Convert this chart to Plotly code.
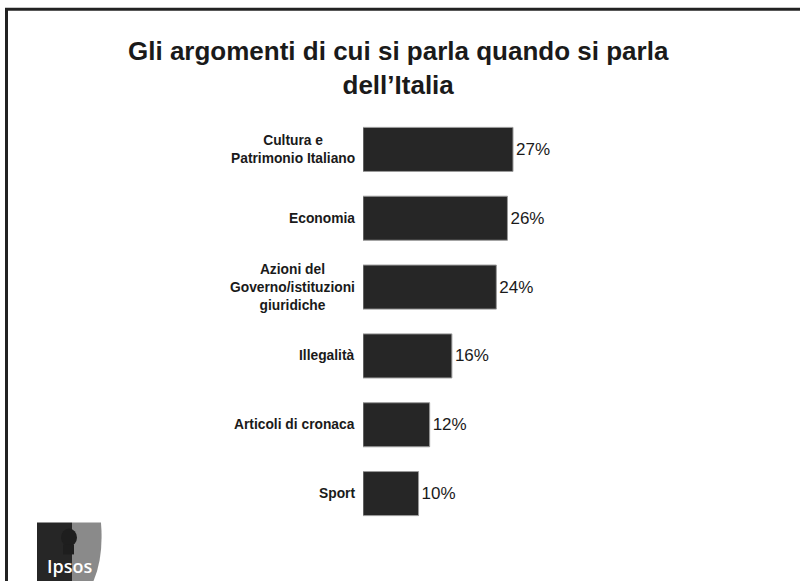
import plotly.graph_objects as go

categories = [
    "Cultura e<br>Patrimonio Italiano",
    "Economia",
    "Azioni del<br>Governo/istituzioni<br>giuridiche",
    "Illegalità",
    "Articoli di cronaca",
    "Sport",
]
values = [27, 26, 24, 16, 12, 10]
title_text = "Gli argomenti di cui si parla quando si parla<br>dell’Italia"

W, H = 800, 581
L, R, T, B = 363, 37, 114.5, 52.5
PW, PH = W - L - R, H - T - B
XMAX = 72


def px(x):
    return (x - L) / PW


def py(y):
    return (H - B - y) / PH


fig = go.Figure()
fig.add_trace(go.Bar(
    x=values,
    y=categories,
    orientation="h",
    marker=dict(color="#262626", line=dict(color="#9a9a9a", width=1)),
    text=[f"{v}%" for v in values],
    textposition="outside",
    textfont=dict(family="Liberation Sans, Arial, sans-serif", size=17, color="#1a1a1a"),
    cliponaxis=False,
    width=0.64,
    hoverinfo="skip",
))

annotations = []
for c in categories:
    annotations.append(dict(
        x=px(357), xref="paper", y=c, yref="y",
        text=c, showarrow=False, xanchor="right", yanchor="middle", align="center",
        font=dict(family="Liberation Sans, Arial, sans-serif", size=13.8, color="#1a1a1a", weight="bold"),
    ))

# title
annotations.append(dict(
    x=px(398), xref="paper", y=py(33), yref="paper",
    text=title_text, showarrow=False, xanchor="center", yanchor="top", align="center",
    font=dict(family="Liberation Sans, Arial, sans-serif", size=26, color="#1a1a1a", weight="bold"),
))

# Ipsos logo text
annotations.append(dict(
    x=px(69), xref="paper", y=py(567), yref="paper",
    text="Ipsos", showarrow=False, xanchor="center", yanchor="middle",
    font=dict(family="Open Sans, Liberation Sans, sans-serif", size=18, color="white", weight=600),
))

shapes = [
    # frame
    dict(type="line", xref="paper", yref="paper", x0=px(6.5), x1=px(6.5), y0=py(8.5), y1=py(585),
         line=dict(color="#222222", width=3)),
    dict(type="line", xref="paper", yref="paper", x0=px(5), x1=px(805), y0=py(8.5), y1=py(8.5),
         line=dict(color="#222222", width=3)),
    # logo dark part
    dict(type="rect", xref="paper", yref="paper", x0=px(37), x1=px(72), y0=py(523), y1=py(585),
         fillcolor="#262626", line=dict(width=0), layer="above"),
    # logo grey shield
    dict(type="path", xref="paper", yref="paper",
         path=(f"M {px(72)} {py(523)} L {px(101)} {py(523)} "
               f"Q {px(104)} {py(560)} {px(92)} {py(585)} L {px(72)} {py(585)} Z"),
         fillcolor="#8a8a8a", line=dict(width=0), layer="above"),
    # head silhouette
    dict(type="circle", xref="paper", yref="paper", x0=px(61), x1=px(77), y0=py(529), y1=py(547),
         fillcolor="#1e1e1e", line=dict(width=0), layer="above"),
    dict(type="rect", xref="paper", yref="paper", x0=px(63), x1=px(74), y0=py(545), y1=py(555),
         fillcolor="#1e1e1e", line=dict(width=0), layer="above"),
]

fig.update_layout(
    width=W, height=H,
    margin=dict(l=L, r=R, t=T, b=B, pad=0),
    paper_bgcolor="white", plot_bgcolor="white",
    showlegend=False,
    bargap=0.36,
    xaxis=dict(range=[0, XMAX], visible=False, fixedrange=True),
    yaxis=dict(autorange="reversed", showticklabels=False, showgrid=False, zeroline=False,
               showline=False, ticks="", fixedrange=True),
    annotations=annotations,
    shapes=shapes,
)

fig.write_html("out.html")
